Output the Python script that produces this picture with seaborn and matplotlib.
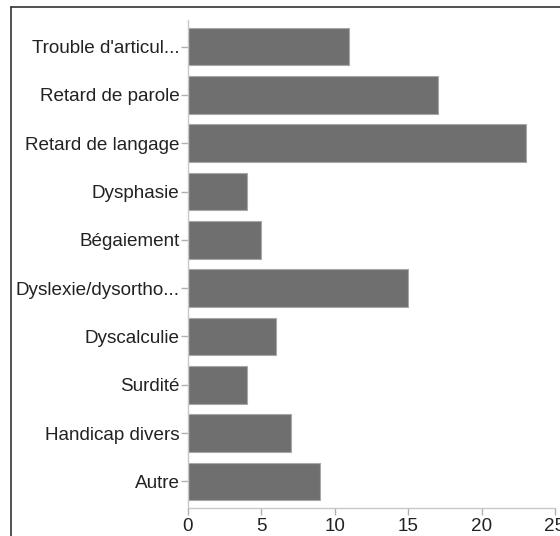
import matplotlib
matplotlib.use("Agg")
import matplotlib.pyplot as plt
import pandas as pd
import seaborn as sns
from matplotlib.lines import Line2D

categories = ["Trouble d'articul...", "Retard de parole", "Retard de langage",
              "Dysphasie", "Bégaiement", "Dyslexie/dysortho...", "Dyscalculie",
              "Surdité", "Handicap divers", "Autre"]
counts = [11, 17, 23, 4, 5, 15, 6, 4, 7, 9]
x_ticks = [0, 5, 10, 15, 20, 25]

sns.set_theme(style="ticks")
plt.rcParams["font.family"] = ["Liberation Sans", "DejaVu Sans"]

df = pd.DataFrame({"categorie": categories, "n": counts})

fig = plt.figure(figsize=(5.6, 5.36), dpi=100)
ax = fig.add_axes([188 / 560, 1 - 508 / 536, (555 - 188) / 560, (508 - 20) / 536])

sns.barplot(data=df, x="n", y="categorie", orient="h", color="#6f6f6f",
            saturation=1, width=0.78, edgecolor="#a8a8a8", linewidth=0.8, ax=ax)

ax.set_xlim(0, 25)
ax.set_ylim(9.55, -0.55)
ax.set_xticks(x_ticks)
ax.set_xlabel("")
ax.set_ylabel("")
for s in ["top", "right"]:
    ax.spines[s].set_visible(False)
for s in ["left", "bottom"]:
    ax.spines[s].set_color("#c8c8c8")
    ax.spines[s].set_linewidth(1.0)
ax.tick_params(axis="both", length=5, width=1, color="#b0b0b0",
               labelsize=13.6, labelcolor="#222222", pad=1, direction="out",
               left=True, bottom=True)
ax.tick_params(axis="x", pad=2)

# outer frame (only left and top edges fall inside the image)
fx = 11 / 560
fy = 1 - 7 / 536
fig.add_artist(Line2D([fx, fx], [0, fy], transform=fig.transFigure, color="#333333", lw=1.2))
fig.add_artist(Line2D([fx, 1], [fy, fy], transform=fig.transFigure, color="#333333", lw=1.2))

fig.savefig("out.png", dpi=100)
